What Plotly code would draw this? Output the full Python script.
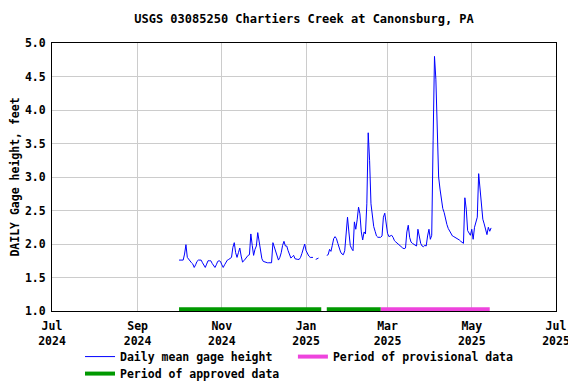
import pandas as pd
import plotly.graph_objects as go

# ---- data ----
seg1_start = "2024-10-01"
seg1_values = [
    1.76, 1.76, 1.75, 1.76, 1.85, 1.99, 1.80, 1.77, 1.75, 1.72,
    1.70, 1.65, 1.69, 1.74, 1.76, 1.76, 1.76, 1.72, 1.68, 1.65,
    1.70, 1.75, 1.75, 1.75, 1.71, 1.67, 1.65, 1.69, 1.74, 1.75,
    1.74, 1.69, 1.65, 1.69, 1.73, 1.76, 1.77, 1.78, 1.80, 1.95,
    2.02, 1.87, 1.80, 1.87, 1.94, 1.82, 1.73, 1.75, 1.78, 1.81,
    1.83, 1.84, 2.15, 1.98, 1.83, 1.92, 1.97, 2.17, 2.05, 1.87,
    1.78, 1.74, 1.73, 1.72, 1.72, 1.72, 1.72, 1.72, 2.02, 1.95,
    1.88, 1.83, 1.76, 1.80, 1.87, 1.98, 2.04, 1.97, 1.97, 1.90,
    1.84, 1.79, 1.81, 1.83, 1.78, 1.77, 1.77, 1.77, 1.80, 1.86,
    1.92, 2.00, 1.90, 1.85, 1.82, 1.80, 1.80, 1.80, None, 1.77,
    1.78, 1.79,
]
seg2_start = "2025-01-16"
seg2_values = [
    1.83, 1.84, 1.92, 1.89, 1.98, 2.08, 2.11, 2.08, 2.01, 1.94,
    1.88, 1.85, 1.84, 1.90, 2.22, 2.40, 2.18, 1.98, 1.93, 1.90,
    2.33, 2.22, 2.36, 2.55, 2.45, 2.18, 2.06, 2.18, 2.15, 2.60,
    3.66, 3.25, 2.60, 2.38, 2.26, 2.19, 2.12, 2.10, 2.10, 2.10,
    2.12, 2.40, 2.46, 2.30, 2.16, 2.11, 2.12, 2.13, 2.10, 2.05,
    2.03, 2.01, 2.00, 1.97, 1.95, 1.94, 1.93, 1.94, 2.18, 2.28,
    2.10, 2.03, 2.01, 2.00, 1.98, 1.97, 2.22, 2.10, 2.01, 1.97,
    1.96, 1.98, 1.97, 2.12, 2.22, 2.07, 2.13, 3.55, 4.80, 4.46,
    3.52, 3.00, 2.82, 2.65, 2.53, 2.47, 2.37, 2.29, 2.23, 2.19,
    2.15, 2.12, 2.11, 2.10, 2.09, 2.08, 2.06, 2.04, 2.02, 2.01,
    2.69, 2.52, 2.20, 2.17, 2.13, 2.22, 2.07, 2.25, 2.35, 2.40,
    3.05, 2.85, 2.55, 2.37, 2.30, 2.20, 2.14, 2.25, 2.19, 2.24,
]

approved_periods = [("2024-10-01", "2025-01-12"), ("2025-01-16", "2025-02-24")]
provisional_periods = [("2025-02-24", "2025-05-14")]

tick_dates = ["2024-07-01", "2024-09-01", "2024-11-01", "2025-01-01",
              "2025-03-01", "2025-05-01", "2025-07-01"]
tick_labels = ["Jul<br>2024", "Sep<br>2024", "Nov<br>2024", "Jan<br>2025",
               "Mar<br>2025", "May<br>2025", "Jul<br>2025"]

title = "USGS 03085250 Chartiers Creek at Canonsburg, PA"
y_title = "DAILY Gage height, feet"

# ---- build ----
d1 = list(pd.date_range(seg1_start, periods=len(seg1_values), freq="D"))
d2 = list(pd.date_range(seg2_start, periods=len(seg2_values), freq="D"))
x_line = d1 + [d1[-1] + pd.Timedelta(days=1)] + d2
y_line = seg1_values + [None] + seg2_values

BAR_Y = 1.025
FONT = "DejaVu Sans Mono"

def period_xy(periods):
    xs, ys = [], []
    for a, b in periods:
        xs += [a, b, None]
        ys += [BAR_Y, BAR_Y, None]
    return xs, ys

fig = go.Figure()
fig.add_trace(go.Scatter(x=x_line, y=y_line, mode="lines",
                         line=dict(color="#0000ff", width=1),
                         name="Daily mean gage height", connectgaps=False,
                         legend="legend"))
px_, py_ = period_xy(provisional_periods)
fig.add_trace(go.Scatter(x=px_, y=py_, mode="lines",
                         line=dict(color="#ee44dd", width=4),
                         name="Period of provisional data", legend="legend2"))
ax_, ay_ = period_xy(approved_periods)
fig.add_trace(go.Scatter(x=ax_, y=ay_, mode="lines",
                         line=dict(color="#009900", width=4),
                         name="Period of approved data", legend="legend3"))

font = dict(family=FONT, size=11.5, color="black", weight="bold")

def leg(x, y):
    return dict(x=x, xanchor="left", y=y, yanchor="top", font=font,
                itemwidth=30, bgcolor="rgba(0,0,0,0)", borderwidth=0)

ROW1, ROW2 = -0.116, -0.1794
COL1, COL2 = 0.0556, 0.478

# page body has an 8px default margin, so the figure is 8px smaller
W, H = 568, 376
fig.update_layout(
    width=W, height=H,
    margin=dict(l=44, r=20, t=35, b=73, autoexpand=False),
    paper_bgcolor="white", plot_bgcolor="white",
    font=font,
    title=dict(text=title, x=0.5, xanchor="center", xref="paper",
               yref="container", y=1 - 11 / H, yanchor="middle",
               font=dict(family=FONT, size=12, color="black", weight="bold")),
    showlegend=True,
    legend=leg(COL1, ROW1),
    legend2=leg(COL2, ROW1),
    legend3=leg(COL1, ROW2),
)
fig.update_xaxes(
    type="date",
    range=["2024-07-01", "2025-07-01"],
    tickvals=tick_dates, ticktext=tick_labels,
    showgrid=True, gridcolor="#cccccc", gridwidth=1,
    showline=True, linecolor="black", linewidth=1, mirror=True,
    ticks="", tickfont=font, zeroline=False, automargin=False,
    ticklabelstandoff=4,
)
fig.update_yaxes(
    range=[1.0, 5.0], tick0=1.0, dtick=0.5, tickformat=".1f",
    showgrid=True, gridcolor="#cccccc", gridwidth=1,
    showline=True, linecolor="black", linewidth=1, mirror=True,
    ticks="", tickfont=font, zeroline=False, automargin=False,
    ticklabelstandoff=3,
    title=dict(text=y_title, font=font, standoff=8),
)

fig.write_html("out.html")
